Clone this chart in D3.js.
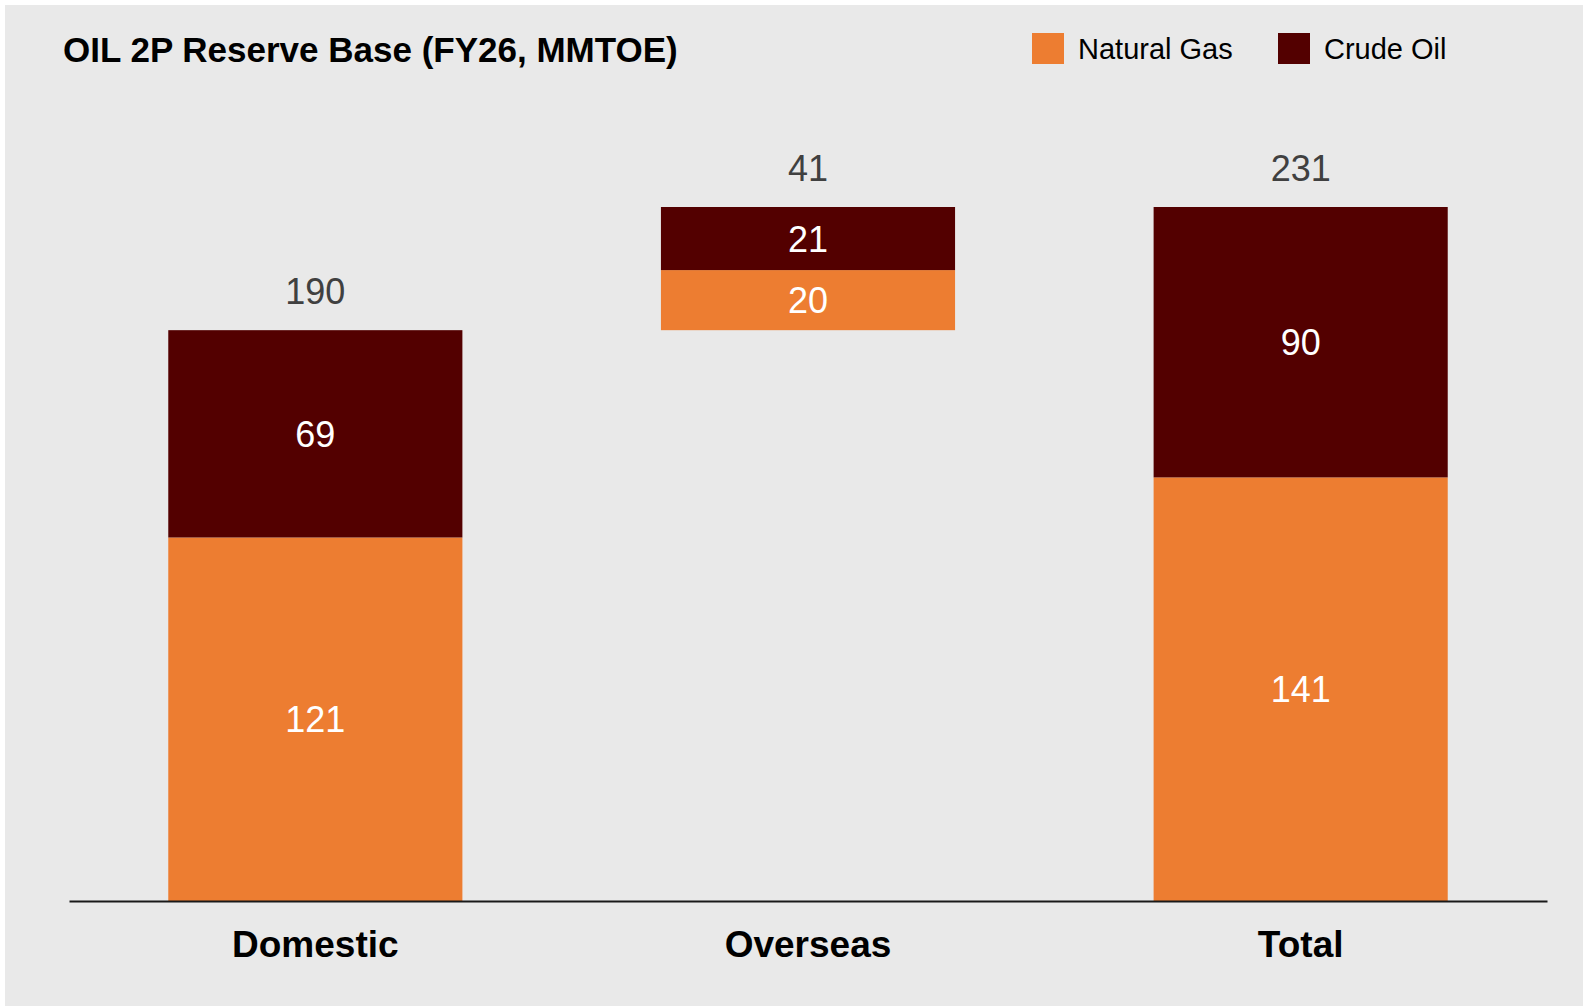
<!DOCTYPE html>
<html>
<head>
<meta charset="utf-8">
<script src="https://cdn.jsdelivr.net/npm/d3@7"></script>
<style>
  body { margin: 0; background: #ffffff; }
  svg { display: block; font-family: "Liberation Sans", Arial, sans-serif; }
</style>
</head>
<body>
<div id="chart"></div>
<script>
// data
var categories = ["Domestic", "Overseas", "Total"];
var gasValues = [121, 20, 141];
var crudeValues = [69, 21, 90];
var baseValues = [0, 190, 0]; // overseas floats on top of domestic
var totalValues = [190, 41, 231];
var seriesNames = ["Natural Gas", "Crude Oil"];
var seriesColors = ["#ED7D31", "#530000"];

var width = 1588, height = 1008;

var svg = d3.select("#chart").append("svg")
  .attr("width", width)
  .attr("height", height);

// grey panel
svg.append("rect")
  .attr("x", 5).attr("y", 5)
  .attr("width", 1578).attr("height", 1001)
  .attr("fill", "#E9E9E9");

var x = d3.scaleBand()
  .domain(categories)
  .range([69, 1547])
  .paddingInner(0.403)
  .paddingOuter(0.2015);

var y = d3.scaleLinear()
  .domain([0, 231])
  .range([901, 207]);

// build stacked segments
var segs = [];
categories.forEach(function(c, i){
  var b = baseValues[i];
  segs.push({cat: c, s: 0, y0: b, y1: b + gasValues[i], v: gasValues[i]});
  segs.push({cat: c, s: 1, y0: b + gasValues[i], y1: b + gasValues[i] + crudeValues[i], v: crudeValues[i]});
});

svg.selectAll("rect.seg")
  .data(segs)
  .enter().append("rect")
  .attr("class", "seg")
  .attr("x", function(d){ return x(d.cat); })
  .attr("width", x.bandwidth())
  .attr("y", function(d){ return y(d.y1); })
  .attr("height", function(d){ return y(d.y0) - y(d.y1); })
  .attr("fill", function(d){ return seriesColors[d.s]; });

// values inside segments
svg.selectAll("text.inner")
  .data(segs)
  .enter().append("text")
  .attr("class", "inner")
  .attr("x", function(d){ return x(d.cat) + x.bandwidth() / 2; })
  .attr("y", function(d){ return (y(d.y0) + y(d.y1)) / 2 + 13; })
  .attr("text-anchor", "middle")
  .attr("font-size", 36)
  .attr("fill", "#ffffff")
  .text(function(d){ return d.v; });

// totals above bars
svg.selectAll("text.total")
  .data(categories)
  .enter().append("text")
  .attr("class", "total")
  .attr("x", function(d){ return x(d) + x.bandwidth() / 2; })
  .attr("y", function(d, i){ return y(baseValues[i] + totalValues[i]) - 26; })
  .attr("text-anchor", "middle")
  .attr("font-size", 36)
  .attr("fill", "#404040")
  .text(function(d, i){ return totalValues[i]; });

// x axis
var xAxis = svg.append("g")
  .attr("transform", "translate(0," + y(0) + ")")
  .call(d3.axisBottom(x).tickSize(0).tickPadding(30));
xAxis.select(".domain").attr("stroke", "#1a1a1a").attr("stroke-width", 2);
xAxis.selectAll("text")
  .attr("font-family", "Liberation Sans, Arial, sans-serif")
  .attr("font-size", 37)
  .attr("font-weight", "bold")
  .attr("fill", "#000");

// title
svg.append("text")
  .attr("x", 63).attr("y", 62)
  .attr("font-size", 35)
  .attr("font-weight", "bold")
  .attr("fill", "#000")
  .text("OIL 2P Reserve Base (FY26, MMTOE)");

// legend
var legendX = [1032, 1278];
var legend = svg.selectAll("g.legend")
  .data(seriesNames)
  .enter().append("g")
  .attr("class", "legend")
  .attr("transform", function(d, i){ return "translate(" + legendX[i] + ",33)"; });
legend.append("rect")
  .attr("width", 32).attr("height", 31)
  .attr("fill", function(d, i){ return seriesColors[i]; });
legend.append("text")
  .attr("x", 46).attr("y", 26)
  .attr("font-size", 29)
  .attr("fill", "#000")
  .text(function(d){ return d; });
</script>
</body>
</html>
